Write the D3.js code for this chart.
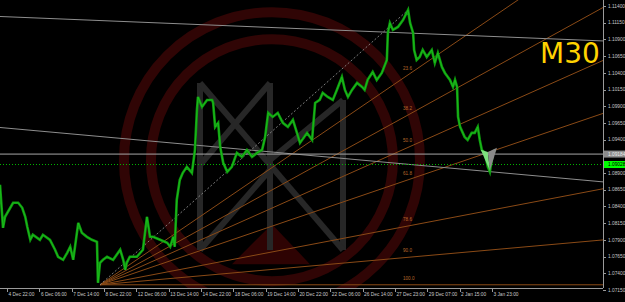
<!DOCTYPE html>
<html>
<head>
<meta charset="utf-8">
<script src="https://cdn.jsdelivr.net/npm/d3@7"></script>
<style>
  body { margin: 0; background: #000; }
  svg { display: block; }
</style>
</head>
<body>
<div class="canvas"></div>
<script>
// 1 - Data (bar index from left edge, EURUSD M30 closes)
const bars = [0,6,10,26,36,44,50,54,60,65,79,85,99,109,115,125,133,139,145,155,162,172,182,192,194,198,204,212,224,238,244,248,251,257,271,283,291,297,303,317,331,337,343,346,350,356,362,370,380,386,390,392,400,410,420,422,426,432,436,442,450,459,469,479,489,499,509,519,525,531,540,550,560,570,580,588,594,608,618,620,624,633,639,649,659,667,677,683,689,697,707,717,722,728,738,746,756,766,768,772,778,788,798,808,812,818,820,825,831,837,845,855,861,867,875,881,891,897,901,905,907,911,920,926,934,940,946,950,954,960,966,970,976,980]
const closes = [1.08724,1.08081,1.08245,1.08455,1.08455,1.08380,1.08245,1.08096,1.07901,1.07976,1.07901,1.07976,1.07901,1.07752,1.07647,1.07602,1.07707,1.07797,1.07602,1.08155,1.08006,1.07946,1.07901,1.07871,1.07258,1.07557,1.07602,1.07647,1.07602,1.07752,1.07602,1.07453,1.07557,1.07647,1.07647,1.07752,1.08245,1.07946,1.07946,1.07901,1.07856,1.07797,1.07946,1.07797,1.08499,1.08798,1.08903,1.08993,1.08903,1.09247,1.09845,1.10039,1.09890,1.09994,1.09994,1.09950,1.09591,1.09651,1.09292,1.09053,1.08918,1.08993,1.09202,1.09142,1.09247,1.09142,1.09202,1.09247,1.09441,1.09800,1.09740,1.09800,1.09651,1.09591,1.09695,1.09501,1.09352,1.09501,1.09396,1.09591,1.09950,1.09994,1.10099,1.10039,1.09994,1.10144,1.10338,1.10144,1.10039,1.10144,1.10249,1.10189,1.10144,1.10294,1.10413,1.10294,1.10398,1.10593,1.10996,1.11146,1.11041,1.11086,1.11191,1.11340,1.11146,1.10996,1.10742,1.10593,1.10637,1.10742,1.10637,1.10742,1.10548,1.10697,1.10488,1.10398,1.10294,1.10189,1.10294,1.10189,1.09740,1.09591,1.09441,1.09396,1.09501,1.09501,1.09591,1.09396,1.09247,1.09202,1.08993,1.08918,1.09202,1.09247]

// time axis: one label every 64 bars
const timeTicks = [14,78,142,206,270,334,398,462,526,590,654,718,782,846,910,974]
const timeLabels = ['4 Dec 22:00','6 Dec 06:00','7 Dec 14:00','8 Dec 22:00','12 Dec 06:00','13 Dec 14:00','14 Dec 22:00','18 Dec 06:00','19 Dec 14:00','20 Dec 22:00','22 Dec 06:00','26 Dec 14:00','27 Dec 23:00','29 Dec 07:00','2 Jan 15:00','3 Jan 23:00']
const priceTicks = [1.11400,1.11150,1.10900,1.10650,1.10400,1.10150,1.09900,1.09650,1.09400,1.09150,1.08900,1.08650,1.08400,1.08150,1.07900,1.07650,1.07400,1.07150]

// fibonacci fan (low -> high)
const fanBars = [198, 808]
const fanPrices = [1.07228, 1.11340]
const fanLevels = [23.6, 38.2, 50.0, 61.8, 78.6, 90.0, 100.0]
const fanLabels = ['23.6', '38.2', '50.0', '61.8', '78.6', '90.0', '100.0']

// grey trendlines (start/end bar, start/end price)
const trendBars = [0, 1194]
const upperTrend = [1.11243, 1.10877]
const lowerTrend = [1.09582, 1.08768]
const levelLine = 1.09184
const bidLine = 1.09028

// zigzag marker at the last bars
const markGreenBars = [952, 970, 966]
const markGreenPrices = [1.09247, 1.08933, 1.09217]
const markGreyBars = [966, 984, 970]
const markGreyPrices = [1.09217, 1.09277, 1.08933]

// 2 - Dimensions
const dims = { width: 625, height: 302, plotW: 603, plotH: 288 }

const svg = d3.select('.canvas')
    .append('svg')
    .attr('width', dims.width)
    .attr('height', dims.height)
    .style('background', '#000')
    .style('font-family', '"Liberation Sans", Arial, sans-serif')

svg.append('clipPath').attr('id', 'plot')
    .append('rect')
    .attr('width', dims.plotW)
    .attr('height', dims.plotH)

// 3 - Scales
const x = d3.scaleLinear().domain([0, 1194]).range([0, dims.plotW])
const y = d3.scaleLinear().domain([1.0715, 1.114]).range([290, 6])

const graph = svg.append('g').attr('clip-path', 'url(#plot)')

// 4 - Watermark (rings + logo), background decoration
const deco = graph.append('g')
const ringC = { x: dims.plotW * 0.451, y: dims.plotH * 0.556 }
;[148, 121].forEach(r => {
    deco.append('circle')
        .attr('cx', ringC.x).attr('cy', ringC.y).attr('r', r)
        .attr('fill', 'none')
        .attr('stroke', '#300505')
        .attr('stroke-width', 10)
})
deco.append('path')
    .attr('d', `M${ringC.x - 40},${ringC.y + 104} L${ringC.x},${ringC.y + 64} L${ringC.x + 38},${ringC.y + 104} Z`)
    .attr('fill', '#2e0303')

const logo = [
    [[200, 83], [200, 250]],
    [[270, 83], [270, 250]],
    [[343, 100], [343, 250]],
    [[200, 83], [343, 250]],
    [[270, 83], [200, 165]],
    [[270, 160], [343, 100]],
    [[200, 250], [270, 170]]
]
deco.selectAll('line.logo')
    .data(logo)
    .enter().append('line')
    .attr('class', 'logo')
    .attr('x1', d => d[0][0]).attr('y1', d => d[0][1])
    .attr('x2', d => d[1][0]).attr('y2', d => d[1][1])
    .attr('stroke', '#272727')
    .attr('stroke-width', 6)

// 5 - Fibonacci fan
const range = fanPrices[1] - fanPrices[0]
const fanData = fanLevels.map((lvl, i) => {
    const pAt = fanPrices[1] - lvl / 100 * range
    const slope = (pAt - fanPrices[0]) / (fanBars[1] - fanBars[0])
    return {
        label: fanLabels[i],
        pAt: pAt,
        endPrice: fanPrices[0] + slope * (1194 - fanBars[0])
    }
})

graph.selectAll('line.fan')
    .data(fanData)
    .enter().append('line')
    .attr('class', 'fan')
    .attr('x1', x(fanBars[0])).attr('y1', y(fanPrices[0]))
    .attr('x2', x(1194)).attr('y2', d => y(d.endPrice))
    .attr('stroke', '#8a4a16')
    .attr('stroke-width', 1)

graph.selectAll('text.fan')
    .data(fanData)
    .enter().append('text')
    .attr('class', 'fan')
    .attr('x', x(fanBars[1] - 10))
    .attr('y', d => y(d.pAt) - 5)
    .attr('fill', '#b8682a')
    .attr('font-size', 4.6)
    .text(d => d.label)

// dotted trend from low to high
graph.append('line')
    .attr('x1', x(fanBars[0])).attr('y1', y(fanPrices[0]))
    .attr('x2', x(fanBars[1])).attr('y2', y(fanPrices[1]))
    .attr('stroke', '#9a9a9a')
    .attr('stroke-width', 0.8)
    .attr('stroke-dasharray', '2,2')

// 6 - Grey trendlines and horizontal level
;[upperTrend, lowerTrend].forEach(t => {
    graph.append('line')
        .attr('x1', x(trendBars[0])).attr('y1', y(t[0]))
        .attr('x2', x(trendBars[1])).attr('y2', y(t[1]))
        .attr('stroke', '#8e8e8e')
        .attr('stroke-width', 1)
})
graph.append('line')
    .attr('x1', 0).attr('x2', dims.plotW)
    .attr('y1', y(levelLine)).attr('y2', y(levelLine))
    .attr('stroke', '#a8a8a8')
    .attr('stroke-width', 1)
graph.append('line')
    .attr('x1', 0).attr('x2', dims.plotW)
    .attr('y1', y(bidLine)).attr('y2', y(bidLine))
    .attr('stroke', '#00b400')
    .attr('stroke-width', 1)
    .attr('stroke-dasharray', '1,2')

// 7 - Price line
const priceLine = d3.line()
    .x((d, i) => x(bars[i]))
    .y(d => y(d))

graph.append('path')
    .datum(closes)
    .attr('d', priceLine)
    .attr('fill', 'none')
    .attr('stroke', '#0e9a0e')
    .attr('stroke-width', 2.6)
    .attr('stroke-linejoin', 'miter')
graph.append('path')
    .datum(closes)
    .attr('d', priceLine)
    .attr('fill', 'none')
    .attr('stroke', '#1fc21f')
    .attr('stroke-width', 0.8)

// zigzag marker
const markPts = (b, p) => b.map((v, i) => [x(v), y(p[i])].join(',')).join(' ')
graph.append('polygon')
    .attr('points', markPts(markGreenBars, markGreenPrices))
    .attr('fill', '#7ee07e')
graph.append('polygon')
    .attr('points', markPts(markGreyBars, markGreyPrices))
    .attr('fill', '#8a8a8a')

// 8 - Timeframe label
svg.append('text')
    .attr('x', 540).attr('y', 63)
    .attr('fill', '#ffd200')
    .attr('font-size', 28)
    .attr('font-family', '"DejaVu Sans", sans-serif')
    .text('M30')

// 9 - Axes frame
svg.append('line')
    .attr('x1', dims.plotW + 0.5).attr('x2', dims.plotW + 0.5)
    .attr('y1', 0).attr('y2', dims.plotH)
    .attr('stroke', '#9a9a9a')
svg.append('line')
    .attr('x1', 0).attr('x2', dims.plotW)
    .attr('y1', dims.plotH + 0.5).attr('y2', dims.plotH + 0.5)
    .attr('stroke', '#9a9a9a')

// current price boxes cover the scale labels beneath them
const boxes = [
    { price: levelLine, fill: '#8c8c8c', color: '#ececec' },
    { price: bidLine, fill: '#00ff00', color: '#000' }
]
const hidden = p => boxes.some(b => Math.abs(y(b.price) - y(p)) < 6)

// right price scale
const pAxis = svg.append('g')
pAxis.selectAll('line')
    .data(priceTicks)
    .enter().append('line')
    .attr('x1', dims.plotW).attr('x2', dims.plotW + 3)
    .attr('y1', d => Math.round(y(d)) + 0.5).attr('y2', d => Math.round(y(d)) + 0.5)
    .attr('stroke', '#9a9a9a')
pAxis.selectAll('text')
    .data(priceTicks.filter(p => !hidden(p)))
    .enter().append('text')
    .attr('x', dims.plotW + 5)
    .attr('y', d => y(d) + 1.7)
    .attr('fill', '#c8c8c8')
    .attr('font-size', 4.8)
    .text(d => d.toFixed(5))

boxes.forEach(b => {
    svg.append('rect')
        .attr('x', dims.plotW + 1).attr('y', y(b.price) - 3.5)
        .attr('width', 21).attr('height', 7)
        .attr('fill', b.fill)
    svg.append('text')
        .attr('x', dims.plotW + 5).attr('y', y(b.price) + 1.7)
        .attr('fill', b.color)
        .attr('font-size', 4.8)
        .text(b.price.toFixed(5))
})

// bottom time scale
const tAxis = svg.append('g')
tAxis.selectAll('line')
    .data(timeTicks)
    .enter().append('line')
    .attr('x1', d => Math.round(x(d)) + 0.5).attr('x2', d => Math.round(x(d)) + 0.5)
    .attr('y1', dims.plotH).attr('y2', dims.plotH + 4)
    .attr('stroke', '#9a9a9a')
tAxis.selectAll('text')
    .data(timeTicks)
    .enter().append('text')
    .attr('x', d => x(d) + 1.5)
    .attr('y', dims.plotH + 8)
    .attr('fill', '#c8c8c8')
    .attr('font-size', 4.8)
    .text((d, i) => timeLabels[i])
</script>
</body>
</html>
